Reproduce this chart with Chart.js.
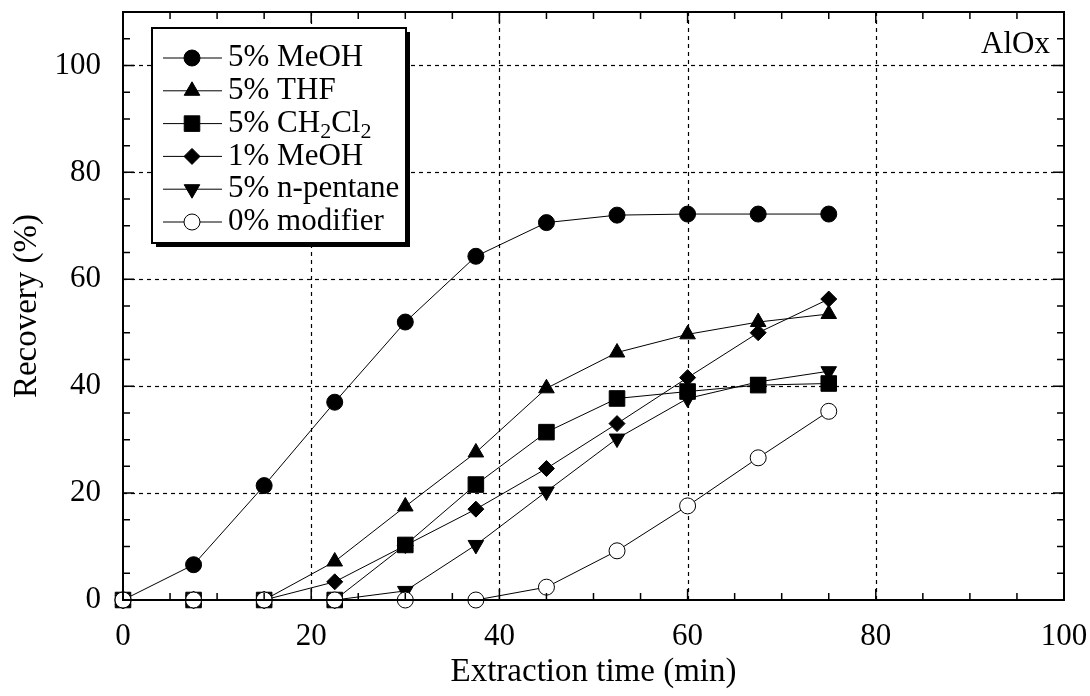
<!DOCTYPE html>
<html>
<head>
<meta charset="utf-8">
<script src="https://cdn.jsdelivr.net/npm/chart.js@4/dist/chart.umd.min.js"></script>
<style>
  html, body { margin: 0; padding: 0; background: #fff; }
  #wrap { width: 1090px; height: 696px; }
</style>
</head>
<body>
<div id="wrap"><canvas id="myChart" width="1090" height="696"></canvas></div>
<script>
const times = [0, 7.5, 15, 22.5, 30, 37.5, 45, 52.5, 60, 67.5, 75];
const meoh5 = [0, 6.6, 21.4, 37, 52, 64.3, 70.6, 72, 72.2, 72.2, 72.2];
const thf5 = [0, 0, 0, 7.2, 17.5, 27.6, 39.6, 46.3, 49.7, 52, 53.5];
const ch2cl2_5 = [0, 0, 0, 0, 10.3, 21.6, 31.4, 37.7, 39, 40.2, 40.5];
const meoh1 = [0, 0, 0, 3.4, 10.2, 17, 24.6, 33, 41.6, 50, 56.3];
const pentane5 = [0, 0, 0, 0, 1.7, 10.3, 20.3, 30.2, 37.7, 40.8, 42.8];
const modifier0 = [0, 0, 0, 0, 0, 0, 2.4, 9.2, 17.6, 26.6, 35.3];
const seriesNames = ["5% MeOH", "5% THF", "5% CH2Cl2", "1% MeOH", "5% n-pentane", "0% modifier"];
const xTicks = [0, 20, 40, 60, 80, 100];
const yTicks = [0, 20, 40, 60, 80, 100];
const panelLabel = "AlOx";

const FONT = "'Liberation Serif', 'Times New Roman', serif";

function pts(ys) {
  return ys.map((y, i) => ({ x: times[i], y: y }));
}

function makeSet(idx, ys, style, extra) {
  return Object.assign({
    label: seriesNames[idx],
    data: pts(ys),
    borderColor: "#000",
    borderWidth: 1,
    backgroundColor: "#000",
    pointBackgroundColor: "#000",
    pointBorderColor: "#000",
    pointBorderWidth: 1,
    pointStyle: style,
    pointRadius: 8,
    pointHoverRadius: 8,
    pointRotation: 0,
    tension: 0,
    clip: 20,
    order: 1
  }, extra || {});
}

const datasets = [
  makeSet(0, meoh5, "circle", { pointRadius: 8 }),
  makeSet(1, thf5, "triangle", { pointRadius: 9 }),
  makeSet(2, ch2cl2_5, "rect", { pointRadius: 11 }),
  makeSet(3, meoh1, "rectRot", { pointRadius: 8 }),
  makeSet(4, pentane5, "triangle", { pointRadius: 9, pointRotation: 180 }),
  makeSet(5, modifier0, "circle", { pointRadius: 8, pointBackgroundColor: "#fff", order: 0 })
];

// draw text where digits following a letter become subscripts
function drawRich(ctx, text, x, y, size) {
  const parts = text.split(/(?<=[A-Za-z])(\d)/);
  let cx = x;
  parts.forEach((p, i) => {
    if (!p) return;
    if (i % 2 === 1) {
      ctx.font = Math.round(size * 0.7) + "px " + FONT;
      ctx.fillText(p, cx, y + size * 0.28);
    } else {
      ctx.font = size + "px " + FONT;
      ctx.fillText(p, cx, y);
    }
    cx += ctx.measureText(p).width;
  });
}

const framePlugin = {
  id: "frame",
  beforeDatasetsDraw(chart) {
    const ctx = chart.ctx;
    const a = chart.chartArea;
    const xs = chart.scales.x, ys = chart.scales.y;
    ctx.save();
    ctx.strokeStyle = "#000";
    ctx.lineWidth = 1.2;
    ctx.setLineDash([4, 4]);
    xTicks.forEach(v => {
      if (v <= xs.min || v >= xs.max) return;
      const px = Math.round(xs.getPixelForValue(v)) + 0.5;
      ctx.beginPath(); ctx.moveTo(px, a.top); ctx.lineTo(px, a.bottom); ctx.stroke();
    });
    yTicks.forEach(v => {
      if (v <= ys.min || v >= ys.max) return;
      const py = Math.round(ys.getPixelForValue(v)) + 0.5;
      ctx.beginPath(); ctx.moveTo(a.left, py); ctx.lineTo(a.right, py); ctx.stroke();
    });
    ctx.restore();
  },
  afterDraw(chart) {
    const ctx = chart.ctx;
    const a = chart.chartArea;
    const xs = chart.scales.x, ys = chart.scales.y;
    ctx.save();
    ctx.strokeStyle = "#000";
    ctx.setLineDash([]);
    // inward ticks on all four sides
    ctx.lineWidth = 1.5;
    for (let v = 0; v <= 100; v += 5) {
      const len = v % 20 === 0 ? 11 : 7;
      const px = xs.getPixelForValue(v);
      ctx.beginPath();
      ctx.moveTo(px, a.bottom); ctx.lineTo(px, a.bottom - len);
      ctx.moveTo(px, a.top); ctx.lineTo(px, a.top + len);
      ctx.stroke();
    }
    for (let v = 0; v <= 110; v += 5) {
      const len = v % 20 === 0 ? 11 : 7;
      const py = ys.getPixelForValue(v);
      ctx.beginPath();
      ctx.moveTo(a.left, py); ctx.lineTo(a.left + len, py);
      ctx.moveTo(a.right, py); ctx.lineTo(a.right - len, py);
      ctx.stroke();
    }
    ctx.lineWidth = 2;
    ctx.strokeRect(a.left, a.top, a.right - a.left, a.bottom - a.top);

    // panel label
    ctx.fillStyle = "#000";
    ctx.font = "31px " + FONT;
    ctx.textAlign = "right";
    ctx.textBaseline = "middle";
    ctx.fillText(panelLabel, a.right - 14, a.top + 33);

    // legend box with shadow
    const bx = 152, by = 28, bw = 254, bh = 215;
    ctx.fillStyle = "#000";
    ctx.fillRect(bx + 4, by + 4, bw, bh);
    ctx.fillStyle = "#fff";
    ctx.fillRect(bx, by, bw, bh);
    ctx.lineWidth = 2;
    ctx.strokeRect(bx, by, bw, bh);

    ctx.textAlign = "left";
    ctx.textBaseline = "middle";
    chart.data.datasets.forEach((ds, i) => {
      const cy = by + 30 + i * 32.8;
      ctx.strokeStyle = "#000";
      ctx.lineWidth = 1;
      ctx.beginPath(); ctx.moveTo(bx + 11, cy); ctx.lineTo(bx + 70, cy); ctx.stroke();
      ctx.fillStyle = ds.pointBackgroundColor;
      ctx.strokeStyle = "#000";
      Chart.helpers.drawPoint(ctx, {
        pointStyle: ds.pointStyle,
        radius: ds.pointRadius,
        rotation: ds.pointRotation,
        borderWidth: 1
      }, bx + 40, cy);
      ctx.fillStyle = "#000";
      drawRich(ctx, ds.label, bx + 76, cy, 31);
    });
    ctx.restore();
  }
};

new Chart(document.getElementById("myChart"), {
  type: "line",
  data: { datasets: datasets },
  plugins: [framePlugin],
  options: {
    responsive: false,
    animation: false,
    events: [],
    layout: { padding: { top: 12, right: 26, left: 0, bottom: 0 } },
    plugins: { legend: { display: false }, tooltip: { enabled: false } },
    scales: {
      x: {
        type: "linear",
        min: 0,
        max: 100,
        afterFit: s => { s.height = 96; s.paddingLeft = 0; s.paddingRight = 0; },
        afterBuildTicks: s => { s.ticks = xTicks.map(v => ({ value: v })); },
        grid: { display: false, drawTicks: false },
        border: { display: false },
        ticks: { color: "#000", padding: 18, maxRotation: 0, font: { family: FONT, size: 31 } },
        title: { display: true, text: "Extraction time (min)", color: "#000", padding: { top: 0, bottom: 4 }, font: { family: FONT, size: 33 } }
      },
      y: {
        type: "linear",
        min: 0,
        max: 110,
        afterFit: s => { s.width = 123; s.paddingTop = 0; s.paddingBottom = 0; },
        afterBuildTicks: s => { s.ticks = yTicks.map(v => ({ value: v })); },
        grid: { display: false, drawTicks: false },
        border: { display: false },
        ticks: { color: "#000", padding: 22, font: { family: FONT, size: 31 } },
        title: { display: true, text: "Recovery (%)", color: "#000", padding: { top: 8, bottom: 0 }, font: { family: FONT, size: 33 } }
      }
    }
  }
});
</script>
</body>
</html>
